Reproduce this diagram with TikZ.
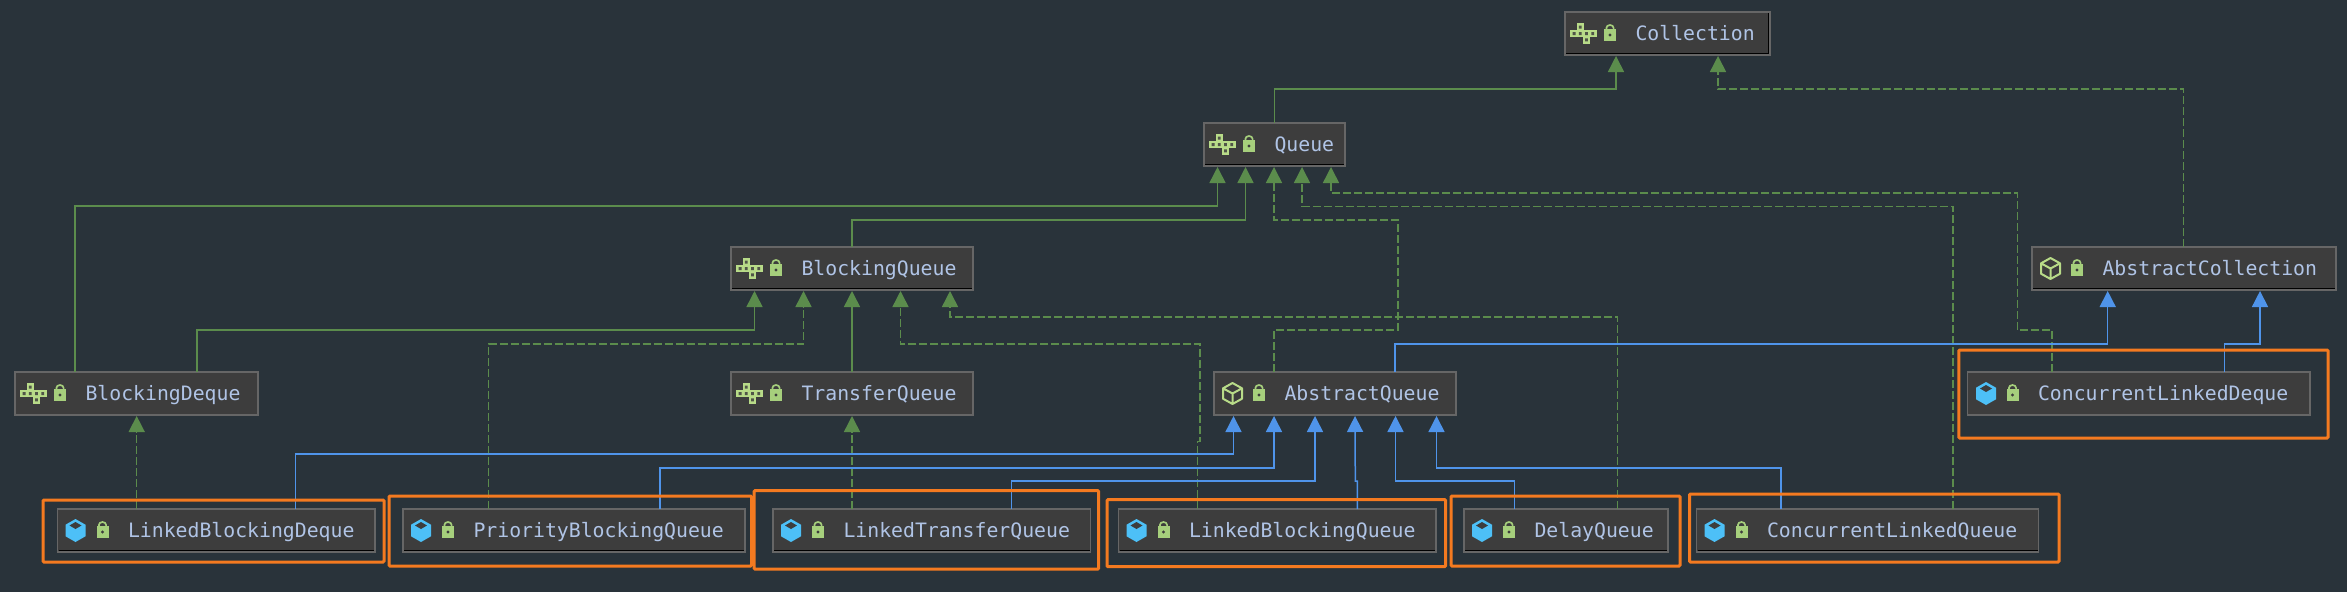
\documentclass[tikz,border=0pt]{standalone}
\usepackage{fontspec}
\setmonofont{DejaVu Sans Mono}
\usetikzlibrary{arrows.meta,fit}
\definecolor{bgc}{HTML}{29333A}
\definecolor{boxc}{HTML}{3D3D3D}
\definecolor{edgec}{HTML}{666666}
\definecolor{greenl}{HTML}{5B8C4C}
\definecolor{bluel}{HTML}{4F94EA}
\definecolor{orangel}{HTML}{F47A20}
\definecolor{textc}{HTML}{B0C4E6}
\definecolor{iconc}{HTML}{B8DB88}
\definecolor{lockc}{HTML}{A6CF7C}
\definecolor{cubec}{HTML}{4DC0F7}
\tikzset{
  umlbox/.style={draw=edgec,fill=boxc,line width=1.5pt,minimum height=43pt,inner sep=0pt,outer sep=0pt,anchor=north west},
  umltext/.style={text=textc,inner sep=0pt,outer sep=0pt,anchor=base west,font=\ttfamily\fontsize{19.8}{24}\selectfont},
  hl/.style={draw=orangel,line width=3pt,rounded corners=1pt,inner sep=0pt,outer sep=0pt},
  gsolid/.style={draw=greenl,line width=1.5pt,-{Triangle[length=16pt,width=16pt,fill=greenl]}},
  gdash/.style={gsolid,dash pattern=on 8pt off 3pt},
  bsolid/.style={draw=bluel,line width=1.5pt,-{Triangle[length=16pt,width=16pt,fill=bluel]}},
  lockicon/.pic={
    \fill[lockc] (0,-4.2) rectangle (12,7.2);
    \draw[lockc,line width=1.7pt] (2.4,-4.2) -- (2.4,-5.5) arc[start angle=180,end angle=0,x radius=3.6pt,y radius=3pt] -- (9.6,-3.5);
    \fill[boxc] (6,1.5) circle (1.6pt);
  },
  ifaceicon/.pic={
    \fill[iconc] (6.2,-9.5) rectangle (12.4,-3.2) (0,-3.2) rectangle (24.8,3.2) (12.4,3.2) rectangle (18.6,9.5);
    \draw[iconc,line width=1.4pt] (6.2,-9.5) rectangle (12.4,-3.2) (0,-3.2) rectangle (24.8,3.2) (12.4,3.2) rectangle (18.6,9.5);
    \fill[boxc!85!iconc] (7.9,-7.8) rectangle (10.7,-4.9) (1.7,-1.5) rectangle (4.5,1.5) (7.9,-1.5) rectangle (10.7,1.5) (14.1,-1.5) rectangle (16.9,1.5) (20.3,-1.5) rectangle (23.1,1.5) (14.1,4.9) rectangle (16.9,7.8);
  },
  abstracticon/.pic={
    \draw[iconc,line width=2pt,line join=round]
      (9.5,-10.5) -- (19,-5.2) -- (19,5.2) -- (9.5,10.5) -- (0,5.2) -- (0,-5.2) -- cycle
      (0,-5.2) -- (9.5,0) -- (19,-5.2) (9.5,0) -- (9.5,10.5);
  },
  classicon/.pic={
    \fill[cubec] (10,-11.5) -- (20,-5.8) -- (20,5.8) -- (10,11.5) -- (0,5.8) -- (0,-5.8) -- cycle;
    \fill[boxc] (10,-8.5) -- (16,-5) -- (10,-1.5) -- (4,-5) -- cycle;
  }
}
% name, x, y, width, icon, icon offset, text
\newcommand\umlnode[7]{%
  \node[umlbox,minimum width=#4pt] (#1) at (#2,#3) {};
  \pic at ([xshift=#6pt]#1.west) {#5};
  \pic at ([xshift=39pt]#1.west) {lockicon};
  \node[umltext] (#1-t) at ([xshift=70.5pt,yshift=-6.5pt]#1.west) {#7};
}
\newcommand\umlshadow[1]{%
  \draw[black,line width=1.3pt] ([xshift=1pt,yshift=1.6pt]#1.south west) -- ([xshift=-1pt,yshift=1.6pt]#1.south east);
}
\begin{document}
\begin{tikzpicture}[x=1pt,y=-1pt]
\useasboundingbox (0,0) rectangle (2347,592);
\fill[bgc] (0,0) rectangle (2347,592);
% nodes
\umlnode{col}{1565}{12}{205}{ifaceicon}{6}{Collection}
\umlnode{queue}{1204}{123}{141}{ifaceicon}{6}{Queue}
\umlnode{bq}{731}{247}{242}{ifaceicon}{6}{BlockingQueue}
\umlnode{bd}{15}{372}{243}{ifaceicon}{6}{BlockingDeque}
\umlnode{tq}{731}{372}{242}{ifaceicon}{6}{TransferQueue}
\umlnode{aq}{1214}{372}{242}{abstracticon}{9}{AbstractQueue}
\umlnode{ac}{2032}{247}{304}{abstracticon}{9}{AbstractCollection}
\umlnode{cld}{1967.5}{372}{342.5}{classicon}{8.5}{ConcurrentLinkedDeque}
\umlnode{lbd}{57.5}{509}{317.5}{classicon}{8}{LinkedBlockingDeque}
\umlnode{pbq}{403}{509}{342}{classicon}{8}{PriorityBlockingQueue}
\umlnode{ltq}{773}{509}{317.5}{classicon}{8}{LinkedTransferQueue}
\umlnode{lbq}{1118.5}{509}{317.5}{classicon}{8}{LinkedBlockingQueue}
\umlnode{dq}{1464}{509}{204}{classicon}{8}{DelayQueue}
\umlnode{clq}{1696.5}{509}{342}{classicon}{8}{ConcurrentLinkedQueue}
\umlshadow{col}\umlshadow{queue}\umlshadow{bq}\umlshadow{ac}\umlshadow{lbd}\umlshadow{pbq}\umlshadow{ltq}\umlshadow{lbq}\umlshadow{dq}\umlshadow{clq}
\draw[black,line width=1.3pt] ([xshift=-1.6pt,yshift=-1pt]col.north east) -- ([xshift=-1.6pt,yshift=1pt]col.south east);
% connectors to Collection
\draw[gsolid] ([xshift=70.5pt]queue.north west) -- ++(0,-34) -| ([xshift=51pt,yshift=-1pt]col.south west);
\draw[gdash] ([xshift=151.5pt]ac.north west) -- ++(0,-158) -| ([xshift=153pt,yshift=-1pt]col.south west);
% connectors to Queue
\draw[gsolid] ([xshift=60pt]bd.north west) -- ++(0,-166) -| ([xshift=13.5pt,yshift=-1pt]queue.south west);
\draw[gsolid] ([xshift=121pt]bq.north west) -- ++(0,-27) -| ([xshift=41.5pt,yshift=-1pt]queue.south west);
\draw[gdash] ([xshift=60pt]aq.north west) -- ++(0,-42) -- ++(124,0) -- ++(0,-110) -| ([xshift=70pt,yshift=-1pt]queue.south west);
\draw[gdash] ([xshift=256.5pt]clq.north west) -- ++(0,-302.5) -| ([xshift=98pt,yshift=-1pt]queue.south west);
\draw[gdash] ([xshift=84.5pt]cld.north west) -- ++(0,-42) -- ++(-34.6,0) -- ++(0,-137) -| ([xshift=127pt,yshift=-1pt]queue.south west);
% connectors to BlockingQueue
\draw[gsolid] ([xshift=182pt]bd.north west) -- ++(0,-42) -| ([xshift=23.5pt,yshift=-1pt]bq.south west);
\draw[gdash] ([xshift=85.5pt]pbq.north west) -- ++(0,-165) -| ([xshift=72.5pt,yshift=-1pt]bq.south west);
\draw[gsolid] ([xshift=121pt]tq.north west) -- ([xshift=121pt,yshift=-1pt]bq.south west);
\draw[gdash] ([xshift=79pt]lbq.north west) -- ++(0,-67.3) -- ++(2.4,0) -- ++(0,-97.7) -| ([xshift=169.5pt,yshift=-1pt]bq.south west);
\draw[gdash] ([xshift=153.5pt]dq.north west) -- ++(0,-192) -| ([xshift=219pt,yshift=-1pt]bq.south west);
% connectors to the two lower interfaces
\draw[gdash] ([xshift=79.2pt]lbd.north west) -- ([xshift=121.7pt,yshift=-1pt]bd.south west);
\draw[gdash] ([xshift=79pt]ltq.north west) -- ([xshift=121pt,yshift=-1pt]tq.south west);
% connectors to AbstractQueue
\draw[bsolid] ([xshift=238pt]lbd.north west) -- ++(0,-55) -| ([xshift=19.5pt,yshift=-1pt]aq.south west);
\draw[bsolid] ([xshift=257pt]pbq.north west) -- ++(0,-41) -| ([xshift=60pt,yshift=-1pt]aq.south west);
\draw[bsolid] ([xshift=238.4pt]ltq.north west) -- ++(0,-28) -| ([xshift=101pt,yshift=-1pt]aq.south west);
\draw[bsolid] ([xshift=238.8pt]lbq.north west) -- ++(0,-28) -- ++(-2,0) -- ([xshift=141pt,yshift=-1pt]aq.south west);
\draw[bsolid] ([xshift=50.5pt]dq.north west) -- ++(0,-28) -| ([xshift=181.5pt,yshift=-1pt]aq.south west);
\draw[bsolid] ([xshift=84.5pt]clq.north west) -- ++(0,-41) -| ([xshift=222.5pt,yshift=-1pt]aq.south west);
% connectors to AbstractCollection
\draw[bsolid] ([xshift=181pt]aq.north west) -- ++(0,-28) -| ([xshift=75.7pt,yshift=-1pt]ac.south west);
\draw[bsolid] ([xshift=257pt]cld.north west) -- ++(0,-28) -| ([xshift=228pt,yshift=-1pt]ac.south west);
% highlights
\node[hl,fit={(1958.8,350)(2328,438)}] (hlcld) {};
\node[hl,fit={(43,500)(384,562)}] (hllbd) {};
\node[hl,fit={(389,496)(751.5,566)}] (hlpbq) {};
\node[hl,fit={(754,490.7)(1098.7,569)}] (hlltq) {};
\node[hl,fit={(1107,499.7)(1445.6,566.7)}] (hllbq) {};
\node[hl,fit={(1451,496)(1680,566)}] (hldq) {};
\node[hl,fit={(1689.5,494)(2059,562)}] (hlclq) {};
\end{tikzpicture}
\end{document}
